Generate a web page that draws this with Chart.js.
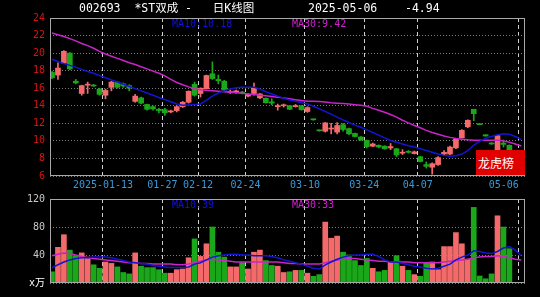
<!DOCTYPE html>
<html>
<head>
<meta charset="utf-8">
<script src="https://cdn.jsdelivr.net/npm/chart.js@4.4.1/dist/chart.umd.min.js"></script>
<style>
  body { margin: 0; background: #000; width: 540px; height: 297px; overflow: hidden; position: relative;
         font-family: "DejaVu Sans Mono", "Noto Sans CJK SC", monospace; }
  canvas { position: absolute; left: 0; }
  #kline { top: 0; }
  #vol { top: 192px; }
  .txt { position: absolute; white-space: pre; line-height: 1; }
  .title { font-size: 11.5px; color: #fff; top: 3px; }
  .leg { font-size: 10px; }
  #lhb { position: absolute; left: 476px; top: 150px; width: 49px; height: 25px; background: #e00000;
         color: #fff; font: 12px "Noto Sans CJK SC", sans-serif; line-height: 25px; padding-left: 2px; box-sizing: border-box; }
</style>
</head>
<body>
<canvas id="kline" width="540" height="192"></canvas>
<canvas id="vol" width="540" height="105"></canvas>

<div class="txt title" style="left:79px">002693  *ST双成 -   日K线图</div>
<div class="txt title" style="left:308px">2025-05-06</div>
<div class="txt title" style="left:405px">-4.94</div>
<div class="txt leg" style="left:172px;top:19px;color:#1010e0">MA10:10.18</div>
<div class="txt leg" style="left:292px;top:19px;color:#d020d0">MA30:9.42</div>
<div class="txt leg" style="left:172px;top:200px;color:#1010e0">MA10:39</div>
<div class="txt leg" style="left:292px;top:200px;color:#d020d0">MA30:33</div>
<div id="lhb">龙虎榜</div>

<script>
// daily candles, 2024-12-30 .. 2025-05-06
const tickIndex = [9, 19, 25, 33, 43, 53, 62, 79];
const tickLabels = ['2025-01-13', '01-27', '02-12', '02-24', '03-10', '03-24', '04-07', '05-06'];

const opens = [17.8, 17.5, 18.85, 20.0, 16.8, 15.4, 16.35, 16.35, 15.9, 15.2,
  16.1, 16.7, 16.5, 16.3, 14.5, 14.9, 14.15, 13.9, 13.6, 13.55,
  13.3, 13.45, 13.9, 14.4, 16.45, 15.4, 15.95, 17.65, 17.0, 16.8,
  15.5, 15.55, 15.55, 15.1, 15.4, 14.9, 14.85, 14.45, 13.9, 14.0,
  14.0, 13.9, 14.0, 13.35, 12.5, 11.25, 11.1, 11.35, 11.0, 11.85,
  11.4, 10.85, 10.45, 10.05, 9.4, 9.5, 9.4, 9.2, 9.1, 8.6,
  8.75, 8.55, 8.2, 7.3, 7.0, 7.3, 8.5, 8.5, 9.2, 10.35,
  11.6, 13.6, 11.95, 10.7, 9.75, 9.0, 9.75, 9.5, 8.55, 8.13];
const highs = [17.9, 18.9, 20.3, 20.05, 17.0, 16.35, 16.7, 16.45, 16.0, 15.9,
  16.8, 16.8, 16.6, 16.4, 15.3, 15.0, 14.2, 14.0, 13.7, 13.7,
  13.5, 14.0, 14.5, 15.7, 16.7, 16.05, 17.5, 19.0, 17.5, 16.9,
  15.8, 15.8, 15.65, 15.4, 16.6, 15.4, 14.9, 14.8, 14.2, 14.2,
  14.05, 14.15, 14.05, 13.9, 12.5, 11.25, 12.1, 12.0, 12.1, 12.0,
  11.45, 10.9, 10.5, 10.1, 9.75, 9.55, 9.45, 9.7, 9.15, 9.0,
  8.9, 8.85, 8.25, 7.6, 7.5, 8.2, 8.9, 9.4, 10.3, 11.3,
  12.4, 13.6, 11.95, 10.7, 9.8, 10.7, 10.1, 9.55, 8.55, 8.13];
const lows = [17.1, 17.0, 18.8, 18.1, 16.5, 15.2, 15.4, 16.2, 15.2, 14.8,
  15.7, 16.0, 16.1, 15.7, 14.4, 14.2, 13.5, 13.5, 13.2, 12.9,
  13.2, 13.3, 13.8, 14.3, 15.1, 15.0, 15.9, 17.0, 16.5, 15.7,
  15.4, 15.45, 15.35, 15.0, 15.2, 14.8, 14.3, 14.1, 13.5, 13.85,
  13.55, 13.85, 13.5, 13.25, 12.35, 11.1, 11.0, 10.8, 10.8, 11.1,
  10.7, 10.45, 10.05, 9.2, 9.35, 9.2, 9.05, 9.0, 8.2, 8.45,
  8.6, 8.5, 7.6, 6.9, 6.2, 7.2, 8.4, 8.4, 9.1, 10.3,
  11.5, 12.3, 11.85, 10.55, 9.6, 8.9, 9.3, 8.95, 8.55, 8.13];
const closes = [17.2, 18.3, 20.2, 18.2, 16.6, 16.3, 16.45, 16.25, 15.3, 15.75,
  16.7, 16.1, 16.25, 16.0, 15.1, 14.3, 13.6, 13.65, 13.45, 13.2,
  13.4, 13.9, 14.4, 15.65, 15.2, 16.0, 17.45, 17.1, 16.85, 15.8,
  15.6, 15.7, 15.45, 15.3, 16.0, 15.35, 14.35, 14.3, 14.0, 14.1,
  13.6, 14.0, 13.55, 13.8, 12.4, 11.15, 12.05, 11.45, 11.75, 11.3,
  10.8, 10.5, 10.1, 9.35, 9.65, 9.3, 9.1, 9.35, 8.4, 8.7,
  8.7, 8.75, 7.65, 7.1, 7.4, 8.1, 8.7, 9.3, 10.2, 11.2,
  12.35, 13.1, 11.85, 10.55, 9.65, 10.6, 9.6, 9.0, 8.55, 8.13];
const ma10 = [19.3, 19.05, 18.8, 18.6, 18.4, 18.15, 17.9, 17.7, 17.45, 17.2,
  16.95, 16.7, 16.45, 16.2, 15.95, 15.7, 15.45, 15.2, 14.95, 14.7,
  14.45, 14.2, 14.05, 14.1, 14.15, 14.2, 14.65, 15.1, 15.45, 15.7,
  15.9, 16.05, 16.1, 16.1, 16.1, 15.9, 15.6, 15.35, 15.1, 14.85,
  14.65, 14.5, 14.35, 14.2, 13.95, 13.65, 13.35, 13.05, 12.7, 12.4,
  12.1, 11.8, 11.55, 11.25, 10.95, 10.65, 10.35, 10.05, 9.85, 9.65,
  9.45, 9.3, 9.1, 8.9, 8.7, 8.5, 8.35, 8.25, 8.3, 8.5,
  8.9, 9.5, 9.95, 10.3, 10.5, 10.7, 10.8, 10.75, 10.5, 10.18];
const ma30 = [22.3, 22.1, 21.9, 21.65, 21.4, 21.1, 20.85, 20.55, 20.2, 19.9,
  19.65, 19.4, 19.15, 18.9, 18.7, 18.45, 18.2, 17.95, 17.7, 17.4,
  17.0, 16.65, 16.4, 16.15, 15.95, 15.82, 15.76, 15.72, 15.66, 15.6,
  15.54, 15.48, 15.42, 15.35, 15.28, 15.2, 15.13, 15.05, 14.98, 14.9,
  14.8, 14.7, 14.6, 14.52, 14.52, 14.5, 14.42, 14.35, 14.3, 14.25,
  14.2, 14.12, 14.05, 13.95, 13.7, 13.5, 13.27, 13.0, 12.7, 12.35,
  12.05, 11.75, 11.5, 11.2, 10.95, 10.75, 10.55, 10.4, 10.28, 10.2,
  10.12, 10.08, 10.06, 10.06, 10.06, 10.06, 10.0, 9.85, 9.65, 9.42];

// volume, x万
const volumes = [16, 51, 69, 47, 39, 43, 37, 26, 21, 30,
  28, 23, 15, 13, 43, 24, 22, 22, 19, 14,
  14, 19, 20, 36, 63, 38, 56, 80, 44, 37,
  23, 23, 29, 20, 44, 47, 32, 25, 24, 15,
  16, 18, 18, 14, 9.5, 12, 87, 64, 67, 44,
  40, 32, 25, 35, 21, 16, 18, 30, 39, 24,
  18, 12, 9.5, 29, 30, 19, 52, 52, 72, 56,
  34, 108, 10, 6, 13, 96, 80, 49, 1, 1];
const volMa10 = [22, 26, 30, 33, 35, 36, 36, 37, 37, 37,
  36, 34, 32, 30, 29, 28, 27, 25, 24, 23,
  22, 22, 22, 23, 27, 29, 33, 37, 39, 40,
  41, 41, 40, 40, 39, 39, 39, 38, 36, 33,
  31, 29, 27, 24, 21, 20, 26, 30, 34, 37,
  39, 40, 40, 41, 41, 38, 33, 30, 30, 28,
  26, 24, 23, 21, 20, 21, 24, 27, 33, 37,
  40, 46, 45, 43, 42, 45, 50, 52, 47, 39];
const volMa30 = [39, 41, 43, 42, 40, 38, 36, 35, 34, 33,
  32, 31, 30, 29, 29, 28, 28, 27, 27, 27,
  27, 26, 26, 27, 29, 31, 33, 34, 33, 32,
  31, 30, 30, 30, 30, 30, 30, 30, 30, 29,
  28, 28, 27, 27, 27, 27, 29, 31, 33, 34,
  35, 35, 34, 33, 32, 31, 31, 30, 30, 30,
  30, 29, 29, 29, 29, 29, 30, 31, 32, 33,
  34, 36, 37, 38, 38, 39, 38, 36, 34, 33];

const upColor = '#f46a6a';
const downColor = '#1aa81a';
const fontMono = "'DejaVu Sans Mono', 'Noto Sans CJK SC', monospace";
const idx = closes.map((c, i) => i);
const isUp = i => closes[i] > opens[i];
const barColor = ctx => isUp(ctx.dataIndex) ? upColor : downColor;
const pts = arr => arr.map((v, i) => ({ x: i, y: v }));

const frame = {
  id: 'frame',
  afterDraw(chart) {
    const { ctx, chartArea: a } = chart;
    ctx.save();
    ctx.strokeStyle = '#a8a8a8';
    ctx.lineWidth = 1;
    ctx.strokeRect(Math.round(a.left) + 0.5, Math.round(a.top) + 0.5,
      Math.round(a.right - a.left) - 1, Math.round(a.bottom - a.top) - 1);
    ctx.restore();
  }
};

function xAxis(showLabels, h) {
  return {
    type: 'linear',
    min: -0.34,
    max: 79.63,
    offset: false,
    afterBuildTicks: s => { s.ticks = tickIndex.map(i => ({ value: i - 0.42 })); },
    afterFit: s => { s.height = h; s.paddingLeft = 0; s.paddingRight = 0; },
    grid: { offset: false, color: '#d0d0d0', drawTicks: false },
    border: { display: false, dash: [4, 3] },
    ticks: {
      display: showLabels, autoSkip: false, maxRotation: 0, minRotation: 0, padding: 3,
      color: '#3a9ad8', font: { family: fontMono, size: 10 },
      callback: (v, i) => tickLabels[i] + (i === tickLabels.length - 1 ? '     ' : '')
    }
  };
}

function yAxis(min, max, step, opts) {
  return {
    min: min, max: max,
    afterFit: s => { s.width = 50; s.paddingTop = 0; s.paddingBottom = 0; },
    grid: { color: '#7a7a7a', drawTicks: false },
    border: { display: false, dash: [1, 2] },
    ticks: Object.assign({ stepSize: step, padding: 5, font: { family: fontMono, size: 10 } }, opts)
  };
}

const common = {
  responsive: false,
  animation: false,
  devicePixelRatio: 1,
  plugins: { legend: { display: false }, tooltip: { enabled: false } }
};

new Chart('kline', {
  type: 'bar',
  data: {
    datasets: [
      { type: 'line', data: pts(ma10), borderColor: '#1414d4', borderWidth: 1.5, pointRadius: 0, order: 0 },
      { type: 'line', data: pts(ma30), borderColor: '#c824c8', borderWidth: 1.5, pointRadius: 0, order: 0 },
      { data: idx.map(i => ({ x: i, y: [opens[i], closes[i]] })), backgroundColor: barColor,
        barThickness: 5, grouped: false, minBarLength: 1, order: 1 },
      { data: idx.map(i => ({ x: i, y: [lows[i], highs[i]] })), backgroundColor: barColor,
        barThickness: 1, grouped: false, minBarLength: 1, order: 2 }
    ]
  },
  options: Object.assign({}, common, {
    layout: { padding: { left: 0, right: 15, top: 18, bottom: 0 } },
    scales: {
      x: xAxis(true, 16),
      y: yAxis(6, 24, 2, { color: '#d41414' })
    }
  }),
  plugins: [frame]
});

new Chart('vol', {
  type: 'bar',
  data: {
    datasets: [
      { type: 'line', data: pts(volMa10), borderColor: '#1414d4', borderWidth: 1.5, pointRadius: 0, order: 0 },
      { type: 'line', data: pts(volMa30), borderColor: '#c824c8', borderWidth: 1.5, pointRadius: 0, order: 0 },
      { data: pts(volumes), backgroundColor: barColor, barThickness: 5, grouped: false, order: 1 }
    ]
  },
  options: Object.assign({}, common, {
    layout: { padding: { left: 0, right: 15, top: 7, bottom: 0 } },
    scales: {
      x: xAxis(false, 14),
      y: yAxis(0, 120, 40, {
        color: ctx => ctx.tick.value === 0 ? '#ffffff' : '#c8c8c8',
        callback: v => v === 0 ? 'x万' : v
      })
    }
  }),
  plugins: [frame]
});
</script>
</body>
</html>
